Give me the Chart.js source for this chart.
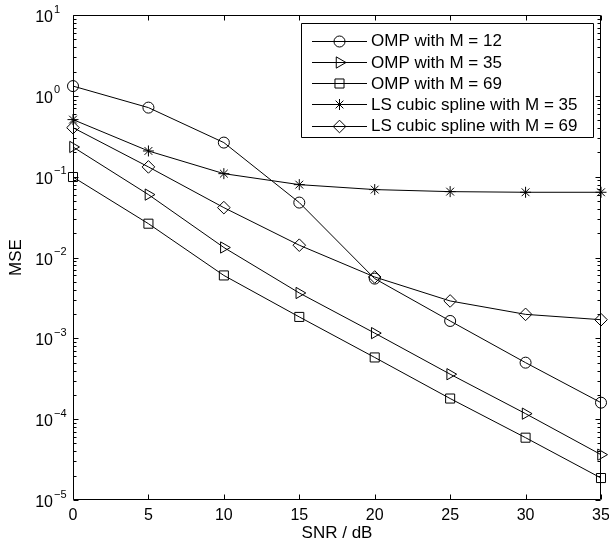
<!DOCTYPE html>
<html><head><meta charset="utf-8">
<script src="https://cdn.jsdelivr.net/npm/chart.js@4.4.1/dist/chart.umd.min.js"></script>
<style>html,body{margin:0;padding:0;background:#fff}canvas{display:block}</style>
</head><body>
<canvas id="c" width="609" height="548"></canvas>
<script>
// ---- data ----
const snr = [0, 5, 10, 15, 20, 25, 30, 35];
const ompM12 = [1.32, 0.715, 0.264, 0.0478, 0.00548, 0.00164, 0.00050, 0.000160];
const ompM35 = [0.233, 0.060, 0.0133, 0.00364, 0.00116, 0.00036, 0.000117, 0.0000364];
const ompM69 = [0.099, 0.0262, 0.0060, 0.00184, 0.00058, 0.00018, 0.000059, 0.0000187];
const lsM35 = [0.508, 0.208, 0.109, 0.0797, 0.0692, 0.0653, 0.0641, 0.0641];
const lsM69 = [0.404, 0.132, 0.0414, 0.0142, 0.00574, 0.0029, 0.00198, 0.0017];
const seriesLabels = ['OMP with M = 12', 'OMP with M = 35', 'OMP with M = 69',
                      'LS cubic spline with M = 35', 'LS cubic spline with M = 69'];
const xTickValues = [0, 5, 10, 15, 20, 25, 30, 35];
const yDecades = [-5, -4, -3, -2, -1, 0, 1];
const xTitle = 'SNR / dB';
const yTitle = 'MSE';

// ---- styles ----
const FONT = '"Liberation Sans", Arial, Helvetica, sans-serif';
const markers = [
  {pointStyle: 'circle', radius: 5.5, rotation: 0},
  {pointStyle: 'triangle', radius: 6.5, rotation: 90},
  {pointStyle: 'rect', radius: 6.4, rotation: 0},
  {pointStyle: 'star', radius: 5.5, rotation: 0},
  {pointStyle: 'rectRot', radius: 6.3, rotation: 0}
];
const seriesData = [ompM12, ompM35, ompM69, lsM35, lsM69];

const datasets = seriesData.map((d, i) => ({
  label: seriesLabels[i],
  data: d.map((v, j) => ({x: snr[j], y: v})),
  borderColor: '#000',
  borderWidth: 1,
  pointStyle: markers[i].pointStyle,
  pointRadius: markers[i].radius,
  pointRotation: markers[i].rotation,
  pointBorderColor: '#000',
  pointBackgroundColor: 'rgba(0,0,0,0)',
  pointBorderWidth: 1,
  fill: false,
  tension: 0,
  clip: false
}));

const decor = {
  id: 'decor',
  afterDatasetsDraw(chart) {
    const ctx = chart.ctx;
    const {left, right, top, bottom} = chart.chartArea;
    const xs = chart.scales.x, ys = chart.scales.y;
    ctx.save();
    ctx.strokeStyle = '#000';
    ctx.lineWidth = 1;
    // box
    const L = Math.round(left) + 0.5, R = Math.round(right) - 0.5;
    const T = Math.round(top) + 0.5, B = Math.round(bottom) - 0.5;
    ctx.beginPath();
    ctx.rect(L, T, R - L, B - T);
    ctx.stroke();
    // x ticks (inward, top & bottom)
    ctx.beginPath();
    xTickValues.forEach(v => {
      const px = Math.round(xs.getPixelForValue(v)) + 0.5;
      ctx.moveTo(px, B); ctx.lineTo(px, B - 5);
      ctx.moveTo(px, T); ctx.lineTo(px, T + 5);
    });
    // y ticks
    yDecades.forEach(k => {
      const py = Math.round(ys.getPixelForValue(Math.pow(10, k))) + 0.5;
      ctx.moveTo(L, py); ctx.lineTo(L + 5, py);
      ctx.moveTo(R, py); ctx.lineTo(R - 5, py);
      if (k < 1) {
        for (let m = 2; m <= 9; m++) {
          const pm = Math.round(ys.getPixelForValue(m * Math.pow(10, k))) + 0.5;
          ctx.moveTo(L, pm); ctx.lineTo(L + 3, pm);
          ctx.moveTo(R, pm); ctx.lineTo(R - 3, pm);
        }
      }
    });
    ctx.stroke();
    // y tick labels 10^k
    ctx.fillStyle = '#000';
    yDecades.forEach(k => {
      const py = ys.getPixelForValue(Math.pow(10, k));
      ctx.font = '16px ' + FONT;
      ctx.textAlign = 'right';
      ctx.textBaseline = 'alphabetic';
      ctx.fillText('10', 53, py + 7);
      ctx.font = '11px ' + FONT;
      ctx.textAlign = 'left';
      ctx.fillText(k < 0 ? '\u2212' + (-k) : String(k), 54, py - 2.5);
    });
    // legend
    const lx = 301, ly = 23, lw = 293, lh = 115;
    ctx.fillStyle = '#fff';
    ctx.fillRect(lx, ly, lw, lh);
    ctx.beginPath();
    ctx.rect(lx + 0.5, ly + 0.5, lw - 1, lh - 1);
    ctx.stroke();
    chart.data.datasets.forEach((ds, i) => {
      const y = 40.7 + i * 21.25;
      ctx.beginPath();
      ctx.moveTo(312, Math.round(y) + 0.5);
      ctx.lineTo(367, Math.round(y) + 0.5);
      ctx.stroke();
      ctx.fillStyle = 'rgba(0,0,0,0)';
      Chart.helpers.drawPoint(ctx, {
        pointStyle: markers[i].pointStyle, radius: markers[i].radius,
        rotation: markers[i].rotation, borderWidth: 1
      }, 339.5, Math.round(y) + 0.5);
      ctx.fillStyle = '#000';
      ctx.font = '17px ' + FONT;
      ctx.textAlign = 'left';
      ctx.textBaseline = 'middle';
      ctx.fillText(ds.label, 371, y + 1);
    });
    ctx.restore();
  }
};

new Chart(document.getElementById('c'), {
  type: 'line',
  data: {datasets},
  options: {
    responsive: false,
    animation: false,
    layout: {padding: {top: 15, right: 8, left: 0, bottom: 0}},
    plugins: {legend: {display: false}, tooltip: {enabled: false}},
    scales: {
      x: {
        type: 'linear', min: 0, max: 35,
        ticks: {stepSize: 5, color: '#000', font: {family: FONT, size: 16}, padding: 6, maxRotation: 0, autoSkip: false},
        grid: {display: false, drawTicks: false},
        border: {display: false},
        title: {display: true, text: xTitle, color: '#000', font: {family: FONT, size: 17}, padding: {top: 0, bottom: 4}},
        afterFit(s) { s.height = 48; s.paddingLeft = 0; s.paddingRight = 0; }
      },
      y: {
        type: 'logarithmic', min: 1e-5, max: 10,
        ticks: {display: false},
        grid: {display: false, drawTicks: false},
        border: {display: false},
        title: {display: true, text: yTitle, color: '#000', font: {family: FONT, size: 17}, padding: {top: 6, bottom: 0}},
        afterFit(s) { s.width = 73; s.paddingTop = 0; s.paddingBottom = 0; }
      }
    }
  },
  plugins: [decor]
});
</script>
</body></html>
